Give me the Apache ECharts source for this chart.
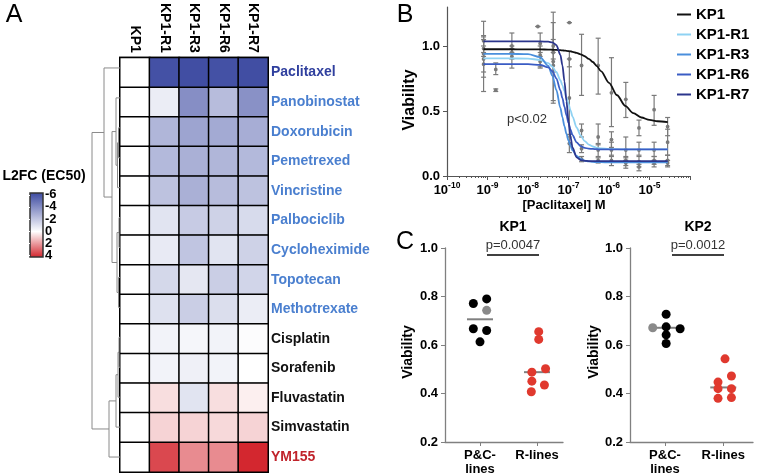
<!DOCTYPE html>
<html><head><meta charset="utf-8">
<script src="https://cdn.jsdelivr.net/npm/echarts@6/dist/echarts.min.js"></script>
<style>html,body{margin:0;padding:0;background:#fff}#c{width:762px;height:476px}</style>
</head><body><div id="c"></div>
<script>
const FONT = "'Liberation Sans', Arial, Helvetica, sans-serif";

// ---------- Panel A data ----------
const drugs = ['Paclitaxel','Panobinostat','Doxorubicin','Pemetrexed','Vincristine','Palbociclib','Cycloheximide','Topotecan','Methotrexate','Cisplatin','Sorafenib','Fluvastatin','Simvastatin','YM155'];
const drugColors = ['#2f3f9e','#4a7fcf','#4a7fcf','#4a7fcf','#4a7fcf','#4a7fcf','#4a7fcf','#4a7fcf','#4a7fcf','#111111','#111111','#111111','#111111','#c0232b'];
const cellLines = ['KP1','KP1-R1','KP1-R3','KP1-R6','KP1-R7'];
const l2fcKP1 = [0,0,0,0,0,0,0,0,0,0,0,0,0,0];
const l2fcR1 = [-5.7,-0.6,-2.4,-2.3,-2.0,-0.9,-0.7,-1.3,-1.0,-0.4,-0.4,0.6,0.8,3.3];
const l2fcR3 = [-5.8,-3.7,-3.0,-2.6,-2.6,-1.7,-1.9,-0.8,-1.6,-0.3,-0.5,-0.9,0.8,2.1];
const l2fcR6 = [-5.7,-2.2,-2.8,-2.4,-2.2,-1.5,-0.9,-1.6,-1.1,-0.4,-0.4,0.6,0.7,2.1];
const l2fcR7 = [-5.8,-3.6,-2.7,-2.3,-2.0,-1.2,-1.5,-1.4,-0.6,-0.1,0.0,0.3,0.8,3.9];
const colorbarTicks = [-6,-4,-2,0,2,4];
// dendrogram linkage: [nodeA, nodeB, height]; leaves are 0..13, merged nodes from 14
const linkage = [[2,3,1.5],[14,4,2.5],[1,15,4],[5,6,1],[7,8,1.5],[17,18,3],[16,19,8],[0,20,16],[9,10,1],[22,11,2],[23,12,4],[24,13,11],[21,25,28]];

// ---------- Panel B data ----------
const curveLogX = [-9.1,-8.5,-8,-7.7,-7.5,-7.4,-7.3,-7.2,-7.15,-7.1,-7.05,-7.0,-6.95,-6.9,-6.8,-6.7,-6.6,-6.5,-6.4,-6.3,-6.2,-6.0,-5.8,-5.6,-5.4,-5.2,-5.0,-4.8,-4.55];
const curveKP1 = [0.975,0.975,0.974,0.974,0.972,0.971,0.970,0.968,0.966,0.965,0.963,0.960,0.958,0.955,0.947,0.936,0.921,0.901,0.877,0.845,0.807,0.717,0.621,0.540,0.484,0.450,0.431,0.421,0.415];
const curveR1 = [0.905,0.905,0.903,0.893,0.868,0.841,0.800,0.737,0.697,0.653,0.605,0.555,0.505,0.457,0.373,0.311,0.269,0.242,0.227,0.217,0.212,0.207,0.206,0.205,0.205,0.205,0.205,0.205,0.205];
const curveR3 = [0.940,0.940,0.937,0.914,0.847,0.772,0.662,0.523,0.451,0.383,0.324,0.273,0.231,0.198,0.154,0.131,0.118,0.112,0.108,0.107,0.106,0.105,0.105,0.105,0.105,0.105,0.105,0.105,0.105];
const curveR6 = [0.860,0.860,0.860,0.855,0.835,0.807,0.751,0.658,0.598,0.533,0.467,0.407,0.356,0.314,0.259,0.230,0.217,0.210,0.208,0.206,0.205,0.205,0.205,0.205,0.205,0.205,0.205,0.205,0.205];
const curveR7 = [1.035,1.035,1.035,1.035,1.033,1.028,1.007,0.932,0.850,0.728,0.575,0.422,0.300,0.218,0.144,0.122,0.117,0.115,0.115,0.115,0.115,0.115,0.115,0.115,0.115,0.115,0.115,0.115,0.115];
const curveColors = ['#111111','#8fd2f3','#4a8fdc','#3a5cc4','#2b358c'];
const xTickExp = [-10,-9,-8,-7,-6,-5];
// error bars: concentration (M), mean, low, high
const errX  = [8e-10,8e-10,8e-10,8e-10,8e-10, 1.6e-9,1.6e-9, 4e-9,4e-9,4e-9, 1.75e-8, 2e-8,2e-8,2e-8, 4.2e-8,4.2e-8,4.2e-8,4.2e-8, 1.05e-7,1.05e-7,1.05e-7,1.05e-7, 2.1e-7,2.1e-7,2.1e-7,2.1e-7, 5.4e-7,5.4e-7,5.4e-7,5.4e-7, 1.15e-6,1.15e-6,1.15e-6,1.15e-6, 2.6e-6,2.6e-6,2.6e-6,2.6e-6, 5.5e-6,5.5e-6,5.5e-6,5.5e-6, 1.3e-5,1.3e-5,1.3e-5,1.3e-5, 2.8e-5,2.8e-5,2.8e-5,2.8e-5];
const errMean=[0.98,0.90,0.94,0.86,1.04, 0.82,0.66, 1.00,0.92,0.95, 1.15, 1.02,0.93,0.88, 0.95,0.88,1.00,0.85, 0.90,0.60,0.25,1.18, 0.85,0.35,0.21,0.13, 0.85,0.30,0.20,0.12, 0.64,0.28,0.20,0.12, 0.59,0.20,0.12,0.10, 0.37,0.20,0.11,0.07, 0.51,0.20,0.12,0.10, 0.38,0.26,0.12,0.10];
const errLo = [0.92,0.65,0.80,0.76,1.00, 0.78,0.65, 0.95,0.83,0.90, 1.15, 0.95,0.83,0.84, 0.56,0.58,0.95,0.80, 0.84,0.30,0.18,1.18, 0.62,0.30,0.18,0.11, 0.63,0.24,0.15,0.10, 0.38,0.22,0.15,0.08, 0.45,0.14,0.08,0.06, 0.31,0.16,0.07,0.04, 0.39,0.15,0.09,0.07, 0.31,0.16,0.07,0.08];
const errHi = [1.05,1.19,1.07,0.95,1.08, 0.87,0.67, 1.10,0.98,1.00, 1.15, 1.10,1.00,0.92, 1.26,1.18,1.05,0.90, 0.96,0.90,0.32,1.18, 1.09,0.40,0.24,0.15, 1.06,0.40,0.25,0.14, 0.91,0.34,0.26,0.16, 0.72,0.30,0.15,0.12, 0.43,0.26,0.15,0.09, 0.62,0.26,0.15,0.12, 0.45,0.36,0.16,0.12];

// ---------- Panel C data ----------
const cCategories = ['P&C-\nlines','R-lines'];
const kp1PcX = [0.883,1.117,0.883,1.117,1.0];
const kp1PcY = [0.771,0.790,0.667,0.660,0.613];
const kp1PcGrayX = [1.117];
const kp1PcGrayY = [0.743];
const kp1RX = [2.03,2.03,1.91,2.15,1.91,2.13,1.90];
const kp1RY = [0.655,0.623,0.488,0.502,0.451,0.435,0.407];
const kp1Medians = [0.706,0.488];
const kp2PcX = [1.02,1.02,1.26,1.02,1.02];
const kp2PcY = [0.727,0.675,0.667,0.642,0.606];
const kp2PcGrayX = [0.79];
const kp2PcGrayY = [0.671];
const kp2RX = [2.03,1.91,2.14,1.91,2.14,1.91,2.14];
const kp2RY = [0.543,0.447,0.472,0.420,0.420,0.380,0.383];
const kp2Medians = [0.671,0.425];

// ---------- build ----------
const blue=[58,72,160], white=[255,255,255], red=[210,34,42];
function mix(a,b,t){return 'rgb('+a.map((v,i)=>Math.round(v+(b[i]-v)*t)).join(',')+')';}
const heatColors=[];
for(let v=-6; v<=4; v++){ heatColors.push(v<=0 ? mix(blue,white,(v+6)/6) : mix(white,red,v/4)); }

const heatData=[];
[l2fcKP1,l2fcR1,l2fcR3,l2fcR6,l2fcR7].forEach((col,ci)=>col.forEach((v,ri)=>heatData.push([ci,ri,v])));

const nodePos = drugs.map((d,i)=>i), nodeH = drugs.map(()=>0);
const dendroSegs=[];
linkage.forEach(([a,b,h])=>{
  dendroSegs.push([nodeH[a],nodePos[a],h,nodePos[a]]);
  dendroSegs.push([nodeH[b],nodePos[b],h,nodePos[b]]);
  dendroSegs.push([h,nodePos[a],h,nodePos[b]]);
  nodePos.push((nodePos[a]+nodePos[b])/2); nodeH.push(h);
});

function expLabel(v){
  const e=Math.round(Math.log10(v));
  if(xTickExp.indexOf(e)<0) return '';
  return '{b|10}{s|'+String(e)+'}';
}

const zip=(xs,ys)=>xs.map((x,i)=>[x,ys[i]]);
const bold13={fontFamily:FONT,fontWeight:'bold',fontSize:13,color:'#000'};

function lineSegRender(color,width){
  return (params,api)=>{
    const p1=api.coord([api.value(0),api.value(1)]);
    const p2=api.coord([api.value(2),api.value(3)]);
    return {type:'line',shape:{x1:p1[0],y1:p1[1],x2:p2[0],y2:p2[1]},style:{stroke:color,lineWidth:width}};
  };
}
function errRender(params,api){
  const x=api.value(0);
  const m=api.coord([x,api.value(1)]), lo=api.coord([x,api.value(2)]), hi=api.coord([x,api.value(3)]);
  const st={stroke:'#7a7a7a',lineWidth:1.2};
  return {type:'group',children:[
    {type:'line',shape:{x1:lo[0],y1:lo[1],x2:hi[0],y2:hi[1]},style:st},
    {type:'line',shape:{x1:lo[0]-2.5,y1:lo[1],x2:lo[0]+2.5,y2:lo[1]},style:st},
    {type:'line',shape:{x1:hi[0]-2.5,y1:hi[1],x2:hi[0]+2.5,y2:hi[1]},style:st},
    {type:'circle',shape:{cx:m[0],cy:m[1],r:1.9},style:{fill:'#7a7a7a'}}
  ]};
}
function medianRender(params,api){
  const p=api.coord([api.value(0),api.value(1)]);
  return {type:'line',shape:{x1:p[0]-13,y1:p[1],x2:p[0]+13,y2:p[1]},style:{stroke:'#808080',lineWidth:2}};
}
// colorbar tick labels drawn at the colorbar axis positions
function colorbarLabelRender(params,api){
  const p=api.coord([1,api.value(0)]);
  return {type:'text',x:p[0]+2,y:p[1],style:{text:String(api.value(0)),font:'bold 13px '+FONT,fill:'#000',align:'left',verticalAlign:'middle'}};
}

const cXAxis=(grid,min,max)=>({type:'value',gridIndex:grid,min:min,max:max,splitLine:{show:false},
  axisLine:{lineStyle:{color:'#808080',width:1.3}},
  axisTick:{customValues:[1,2],length:4,lineStyle:{color:'#808080'}},
  axisLabel:{customValues:[1,2],formatter:v=>cCategories[Math.round(v)-1],...bold13,lineHeight:14,margin:6}});
const cYAxis=(grid)=>({type:'value',gridIndex:grid,min:0.2,max:1.0,splitLine:{show:false},
  axisLine:{show:true,lineStyle:{color:'#808080',width:1.3}},
  axisTick:{show:true,customValues:[0.2,0.4,0.6,0.8,1.0],length:4,lineStyle:{color:'#808080'}},
  axisLabel:{customValues:[0.2,0.4,0.6,0.8,1.0],formatter:v=>v.toFixed(1),...bold13,margin:7}});

const txt=(x,y,text,font,fill,extra)=>Object.assign({type:'text',x:x,y:y,style:{text:text,font:font,fill:fill||'#000',align:'center',verticalAlign:'middle'}},extra||{});

const option={
  animation:false,
  backgroundColor:'#fff',
  textStyle:{fontFamily:FONT},
  grid:[
    {left:120,top:53,width:148,height:419,show:true,borderColor:'#000',borderWidth:2,backgroundColor:'transparent'},
    {left:88,top:53,width:32,height:419},
    {left:30,top:193,width:13,height:64,show:true,borderColor:'#333',borderWidth:1.5,
      backgroundColor:new echarts.graphic.LinearGradient(0,0,0,1,[{offset:0,color:mix(blue,white,0)},{offset:0.6,color:'#fff'},{offset:1,color:mix(white,red,1)}])},
    {left:447,top:7,width:243,height:169},
    {left:445,top:248,width:118,height:195},
    {left:630,top:248,width:123,height:195}
  ],
  xAxis:[
    {type:'category',gridIndex:0,data:cellLines,position:'top',axisLine:{show:false},axisTick:{show:false},splitLine:{show:false},
      axisLabel:{rotate:90,margin:5,fontFamily:FONT,fontWeight:'bold',fontSize:14,color:'#000'}},
    {type:'value',gridIndex:1,min:0,max:32,inverse:true,show:false},
    {type:'value',gridIndex:2,min:0,max:1,show:false},
    {type:'log',gridIndex:3,logBase:10,min:1e-10,max:1e-4,splitNumber:6,splitLine:{show:false},
      axisLine:{lineStyle:{color:'#555',width:1.2}},
      axisTick:{length:4,lineStyle:{color:'#555'}},
      minorTick:{show:true,splitNumber:9,length:2,lineStyle:{color:'#555'}},
      axisLabel:{showMaxLabel:false,margin:5,formatter:expLabel,
        rich:{b:{fontFamily:FONT,fontWeight:'bold',fontSize:13,color:'#000',lineHeight:16,verticalAlign:'bottom'},
              s:{fontFamily:FONT,fontWeight:'bold',fontSize:8.5,color:'#000',lineHeight:16,verticalAlign:'top',padding:[0,0,6,0]}}}},
    cXAxis(4,0.386,2.456),
    cXAxis(5,0.4,2.51)
  ],
  yAxis:[
    {type:'category',gridIndex:0,data:drugs,inverse:true,position:'right',axisLine:{show:false},axisTick:{show:false},splitLine:{show:false},
      axisLabel:{margin:3,fontFamily:FONT,fontWeight:'bold',fontSize:14,color:(v,i)=>drugColors[drugs.indexOf(v)]}},
    {type:'value',gridIndex:1,min:-0.5,max:13.5,inverse:true,show:false},
    {type:'value',gridIndex:2,min:-6.3,max:4.3,inverse:true,position:'right',splitLine:{show:false},
      axisLine:{show:false},axisTick:{show:true,inside:true,customValues:colorbarTicks,length:2,lineStyle:{color:'#fff',width:1}},
      axisLabel:{show:false}},
    {type:'value',gridIndex:3,min:0,max:1.3,splitLine:{show:false},
      axisLine:{show:true,lineStyle:{color:'#555',width:1.2}},
      axisTick:{show:true,customValues:[0,0.5,1.0],length:4,lineStyle:{color:'#555'}},
      axisLabel:{customValues:[0,0.5,1.0],formatter:v=>v.toFixed(1),...bold13,margin:7}},
    cYAxis(4),
    cYAxis(5)
  ],
  visualMap:[{type:'continuous',show:false,seriesIndex:0,dimension:2,min:-6,max:4,inRange:{color:heatColors}}],
  legend:{data:cellLines,orient:'vertical',left:676,top:7,itemWidth:14,itemHeight:14,itemGap:5,padding:0,
    itemStyle:{opacity:0},
    textStyle:{fontFamily:FONT,fontWeight:'bold',fontSize:15,color:'#000'}},
  series:[
    {type:'heatmap',xAxisIndex:0,yAxisIndex:0,data:heatData,itemStyle:{borderColor:'#000',borderWidth:1.5}},
    {type:'custom',xAxisIndex:1,yAxisIndex:1,data:dendroSegs,encode:{x:[0,2],y:[1,3]},renderItem:lineSegRender('#8a8a8a',1),clip:false,silent:true},
    {type:'custom',xAxisIndex:2,yAxisIndex:2,data:colorbarTicks.map(v=>[v]),encode:{y:0},renderItem:colorbarLabelRender,clip:false,silent:true,z:5},
    {type:'custom',xAxisIndex:3,yAxisIndex:3,z:1,data:errX.map((x,i)=>[x,errMean[i],errLo[i],errHi[i]]),encode:{x:0,y:[1,2,3]},renderItem:errRender,silent:true},
  ].concat([curveKP1,curveR1,curveR3,curveR6,curveR7].map((c,i)=>({
    type:'line',name:cellLines[i],xAxisIndex:3,yAxisIndex:3,z:3,symbol:'none',smooth:0.3,smoothMonotone:'x',
    data:curveLogX.map((lx,j)=>[Math.pow(10,lx),c[j]]),
    lineStyle:{color:curveColors[i],width:1.8},itemStyle:{color:curveColors[i]}
  }))).concat([
    {type:'custom',xAxisIndex:4,yAxisIndex:4,z:2,data:kp1Medians.map((m,i)=>[i+1,m]),encode:{x:0,y:1},renderItem:medianRender},
    {type:'scatter',xAxisIndex:4,yAxisIndex:4,z:3,symbolSize:9,data:zip(kp1PcX,kp1PcY),itemStyle:{color:'#000',opacity:1}},
    {type:'scatter',xAxisIndex:4,yAxisIndex:4,z:3,symbolSize:9,data:zip(kp1PcGrayX,kp1PcGrayY),itemStyle:{color:'#8a8a8a',opacity:1}},
    {type:'scatter',xAxisIndex:4,yAxisIndex:4,z:3,symbolSize:9,data:zip(kp1RX,kp1RY),itemStyle:{color:'#e0392e',opacity:1}},
    {type:'custom',xAxisIndex:5,yAxisIndex:5,z:2,data:kp2Medians.map((m,i)=>[i+1,m]),encode:{x:0,y:1},renderItem:medianRender},
    {type:'scatter',xAxisIndex:5,yAxisIndex:5,z:3,symbolSize:9,data:zip(kp2PcX,kp2PcY),itemStyle:{color:'#000',opacity:1}},
    {type:'scatter',xAxisIndex:5,yAxisIndex:5,z:3,symbolSize:9,data:zip(kp2PcGrayX,kp2PcGrayY),itemStyle:{color:'#8a8a8a',opacity:1}},
    {type:'scatter',xAxisIndex:5,yAxisIndex:5,z:3,symbolSize:9,data:zip(kp2RX,kp2RY),itemStyle:{color:'#e0392e',opacity:1}}
  ]),
  graphic:[
    txt(14,15,'A','25px '+FONT),
    txt(405,15,'B','25px '+FONT),
    txt(405,242,'C','25px '+FONT),
    txt(44,176,'L2FC (EC50)','bold 14px '+FONT),
    txt(410,100,'Viability','bold 16px '+FONT,'#000',{rotation:Math.PI/2}),
    txt(564,205,'[Paclitaxel] M','bold 13px '+FONT),
    txt(527,119,'p<0.02','13px '+FONT,'#333'),
    txt(513,227,'KP1','bold 14px '+FONT),
    txt(698,227,'KP2','bold 14px '+FONT),
    txt(513,245,'p=0.0047','13px '+FONT,'#333'),
    txt(698,245,'p=0.0012','13px '+FONT,'#333'),
    {type:'line',shape:{x1:487,y1:255,x2:539,y2:255},style:{stroke:'#000',lineWidth:1.5}},
    {type:'line',shape:{x1:672,y1:255,x2:724,y2:255},style:{stroke:'#000',lineWidth:1.5}},
    txt(408,352,'Viability','bold 14px '+FONT,'#000',{rotation:Math.PI/2}),
    txt(594,352,'Viability','bold 14px '+FONT,'#000',{rotation:Math.PI/2})
  ]
};
const chart=echarts.init(document.getElementById('c'),null,{renderer:'canvas'});
chart.setOption(option);
</script></body></html>
